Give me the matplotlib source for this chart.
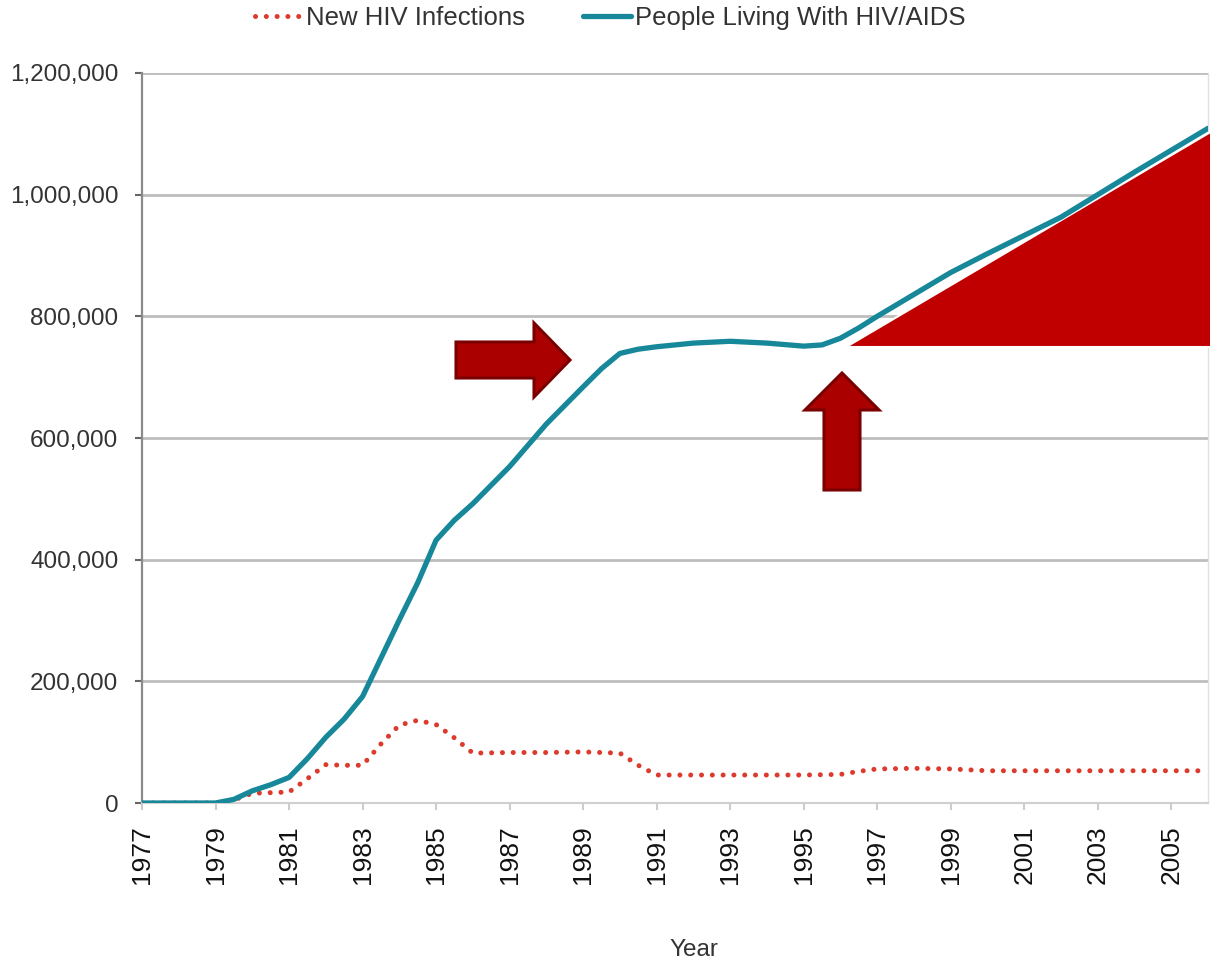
import matplotlib
matplotlib.use("Agg")
import matplotlib.pyplot as plt
from matplotlib.patches import Polygon
from matplotlib.ticker import FuncFormatter

W, H = 1210, 966
plt.rcParams['font.family'] = ['Liberation Sans', 'DejaVu Sans']

# people living with HIV/AIDS
years_living = [1977, 1978, 1979, 1979.5, 1980, 1980.5, 1981, 1981.5, 1982, 1982.5,
                1983, 1983.5, 1984, 1984.5, 1985, 1985.5, 1986, 1987, 1988, 1989,
                1989.5, 1990, 1990.5, 1991, 1992, 1993, 1994, 1995, 1995.5, 1996,
                1996.5, 1997, 1998, 1999, 2000, 2001, 2002, 2003, 2004, 2005, 2006]
living = [0, 0, 0, 6000, 20000, 30000, 42000, 73000, 108000, 138000,
          175000, 238000, 301000, 362000, 432000, 465000, 492000, 553000, 623000, 684000,
          714000, 739000, 746000, 750000, 756000, 759000, 756000, 751000, 753000, 764000,
          781000, 800000, 836000, 872000, 903000, 933000, 963000, 1000000, 1037000, 1073000, 1109000]

# new HIV infections
years_new = [1977, 1978, 1979, 1979.5, 1980, 1980.5, 1981, 1981.5, 1982, 1982.5,
             1983, 1983.5, 1984, 1984.5, 1985, 1985.5, 1986, 1987, 1988, 1989,
             1990, 1990.5, 1991, 1992, 1993, 1994, 1995, 1996, 1996.5, 1997,
             1998, 1999, 2000, 2001, 2002, 2003, 2004, 2005, 2006]
new_inf = [0, 0, 0, 5000, 16000, 17000, 18000, 40000, 63000, 62000,
           62000, 97000, 128000, 136000, 129000, 107000, 82000, 83000, 83000, 84000,
           82000, 62000, 46000, 46000, 46000, 46000, 46000, 47000, 52000, 56000,
           57000, 56000, 53000, 53000, 53000, 53000, 53000, 53000, 53000]

year_ticks = list(range(1977, 2006, 2))
value_ticks = [0, 200000, 400000, 600000, 800000, 1000000, 1200000]

fig = plt.figure(figsize=(W / 100, H / 100), dpi=100)
ax = fig.add_axes([142 / W, 1 - 803 / H, (1208 - 142) / W, (803 - 73) / H])

ax.plot(years_new, new_inf, color='#DC3A2C', lw=3.6, dashes=(0.01, 2.15),
        dash_capstyle='round', zorder=2.5, label='New HIV Infections')
ax.plot(years_living, living, color='#17879A', lw=3.8, zorder=3,
        solid_capstyle='round', solid_joinstyle='round', label='People Living With HIV/AIDS')

ax.set_xlim(1977, 2006)
ax.set_ylim(0, 1200000)
ax.set_xticks(year_ticks)
ax.set_xticklabels([str(y) for y in year_ticks], rotation=90, fontsize=19, color='#111111')
ax.set_yticks(value_ticks)
ax.yaxis.set_major_formatter(FuncFormatter(lambda v, p: f'{int(v):,}'))
ax.tick_params(axis='y', labelsize=17.5, labelcolor='#333333', length=5, width=1.5,
               color='#666666', pad=12)
ax.tick_params(axis='x', length=5, width=1.5, color='#CCCCCC', pad=11)

ax.grid(axis='y', color='#BDBDBD', lw=2)
ax.grid(axis='x', visible=False)
ax.set_axisbelow(True)
ax.spines['top'].set_visible(False)
ax.spines['left'].set_color('#8A8A8A')
ax.spines['left'].set_linewidth(1.6)
ax.spines['bottom'].set_color('#D0D0D0')
ax.spines['bottom'].set_linewidth(1.5)
ax.spines['right'].set_color('#E0E0E0')
ax.spines['right'].set_linewidth(1)

fig.text(694 / W, 1 - 950 / H, 'Year', ha='center', va='center', fontsize=17.5, color='#333333')

fig.legend(loc='center', bbox_to_anchor=(610 / W, 1 - 18 / H), ncol=2, frameon=False,
           fontsize=18.5, handlelength=1.85, handletextpad=0.15, columnspacing=2.25,
           labelcolor='#333333', borderpad=0)


def px(pts):
    return [(x / W, 1 - y / H) for x, y in pts]


# red wedge (upward trend) and the two highlight arrows, in figure pixels
wedge = Polygon(px([(846, 347), (1214, 347), (1214, 130)]), closed=True,
                facecolor='#C00000', edgecolor='white', lw=1.5,
                transform=fig.transFigure, zorder=2.8)
ax.add_artist(wedge)
wedge.set_clip_on(False)

right_arrow = px([(456, 342), (534, 342), (534, 323), (570, 360), (534, 397), (534, 378), (456, 378)])
up_arrow = px([(824, 490), (824, 410), (805, 410), (842, 373), (879, 410), (860, 410), (860, 490)])
for shape in (right_arrow, up_arrow):
    fig.add_artist(Polygon(shape, closed=True, facecolor='#AA0000', edgecolor='#7A0000',
                           lw=2.2, transform=fig.transFigure, zorder=5))

fig.savefig('out.png', dpi=100)
